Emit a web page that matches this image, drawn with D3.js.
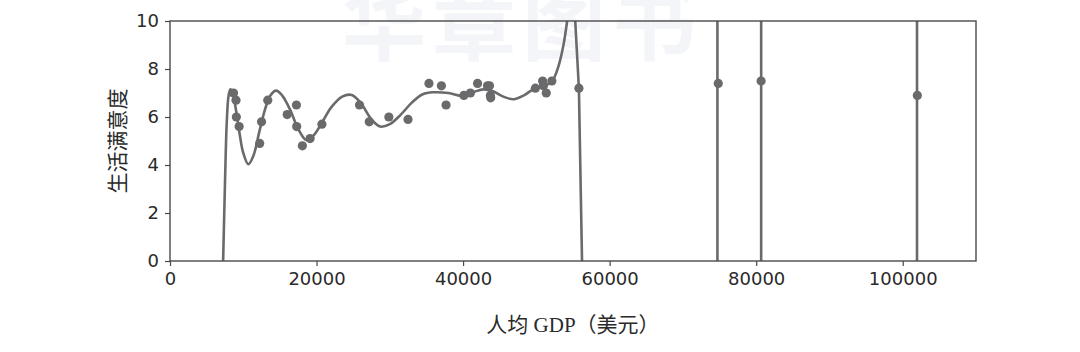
<!DOCTYPE html>
<html>
<head>
<meta charset="utf-8">
<script src="https://cdn.jsdelivr.net/npm/d3@7"></script>
<style>
  body { margin: 0; background: #fff; }
  svg { display: block; }
</style>
</head>
<body>
<svg width="1080" height="352"></svg>
<script>
// country points: GDP per capita (USD) and life satisfaction
const gdp = [8669, 9009, 9054, 9437, 12240, 12495, 13340, 15991, 17256, 17288,
  18064, 19121, 20732, 25864, 27195, 29866, 32485, 35343, 37044, 37675,
  40106, 40996, 41973, 43331, 43603, 43724, 43770, 49866, 50854, 50962,
  51350, 52114, 55805, 74822, 80675, 101994]
const satisfaction = [7.0, 6.7, 6.0, 5.6, 4.9, 5.8, 6.7, 6.1, 6.5, 5.6,
  4.8, 5.1, 5.7, 6.5, 5.8, 6.0, 5.9, 7.4, 7.3, 6.5,
  6.9, 7.0, 7.4, 7.3, 7.3, 6.9, 6.8, 7.2, 7.5, 7.3,
  7.0, 7.5, 7.2, 7.4, 7.5, 6.9]

// overfitted model curve
const curveX = [7150, 7250, 7500, 7750, 8000, 8250, 8600, 9000, 9500, 10000,
  10700, 11400, 12200, 13000, 13700, 14500, 15300, 16400, 17500, 18600,
  19500, 20700, 22000, 23500, 24800, 26000, 27500, 28700, 30000, 31500,
  33000, 34500, 36000, 38000, 40000, 41500, 42800, 44000, 45500, 46900,
  48300, 49800, 51000, 52100, 53000, 53700, 54200, 54700]
const curveY = [-1, 0, 3.2, 5.8, 6.9, 7.15, 6.95, 6.3, 5.3, 4.5,
  4.03, 4.4, 5.4, 6.35, 6.9, 7.1, 6.9, 6.3, 5.5, 5.04,
  5.2, 5.74, 6.4, 6.85, 6.92, 6.6, 5.9, 5.6, 5.7, 6.1,
  6.6, 6.95, 7.03, 7.0, 6.88, 7.05, 7.15, 7.08, 6.85, 6.74,
  6.9, 7.2, 7.3, 7.47, 8.1, 9.0, 10.0, 11.2]
// where the curve falls back from the top down past the bottom
const dropX = [55250, 55805, 56250]
const dropY = [10.3, 7.2, -0.3]
// places where the curve shoots straight through the whole plot
const spikeX = [74710, 80680, 101950]

const xTicks = [0, 20000, 40000, 60000, 80000, 100000]
const yTicks = [0, 2, 4, 6, 8, 10]

const margin = {top: 21, left: 170, right: 104, bottom: 91}
const svg = d3.select('svg')
const width = +svg.attr('width') - margin.left - margin.right
const height = +svg.attr('height') - margin.top - margin.bottom
const grey = '#6a6a6c'
const axisColor = '#4a4a4a'

// faint watermark behind everything, cut by the top edge like the original
svg.append('text')
  .attr('x', 522)
  .attr('y', 54)
  .attr('text-anchor', 'middle')
  .attr('font-family', '"Noto Sans CJK SC"')
  .attr('font-weight', 'bold')
  .attr('font-size', 84)
  .attr('letter-spacing', 6)
  .attr('fill', '#f3f5f9')
  .text('华章图书')

const g = svg.append('g')
  .attr('transform', 'translate(' + margin.left + ',' + margin.top + ')')

const xScale = d3.scaleLinear().domain([0, 110000]).range([0, width])
const yScale = d3.scaleLinear().domain([0, 10]).range([height, 0])

svg.append('defs').append('clipPath').attr('id', 'plot')
  .append('rect').attr('width', width).attr('height', height)

const plot = g.append('g').attr('clip-path', 'url(#plot)')

const line = d3.line()
  .x(d => xScale(d[0]))
  .y(d => yScale(d[1]))

plot.append('path')
  .datum(curveX.map((x, i) => [x, curveY[i]]))
  .attr('fill', 'none')
  .attr('stroke', grey)
  .attr('stroke-width', 2.6)
  .attr('d', line.curve(d3.curveCatmullRom))

plot.append('path')
  .datum(dropX.map((x, i) => [x, dropY[i]]))
  .attr('fill', 'none')
  .attr('stroke', grey)
  .attr('stroke-width', 2.6)
  .attr('d', d3.line().x(d => xScale(d[0])).y(d => yScale(d[1])))

plot.selectAll('line.spike')
  .data(spikeX)
  .enter().append('line')
  .attr('class', 'spike')
  .attr('x1', d => xScale(d))
  .attr('x2', d => xScale(d))
  .attr('y1', yScale(-1))
  .attr('y2', yScale(11))
  .attr('stroke', grey)
  .attr('stroke-width', 2.6)

plot.selectAll('circle')
  .data(gdp)
  .enter().append('circle')
  .attr('cx', d => xScale(d))
  .attr('cy', (d, i) => yScale(satisfaction[i]))
  .attr('r', 4.6)
  .attr('fill', grey)

// axes
const xAxis = g.append('g')
  .attr('transform', 'translate(0,' + height + ')')
  .call(d3.axisBottom(xScale).tickValues(xTicks).tickFormat(d3.format('d')).tickSize(5).tickPadding(6))
const yAxis = g.append('g')
  .call(d3.axisLeft(yScale).tickValues(yTicks).tickSize(5).tickPadding(6))

;[xAxis, yAxis].forEach(a => {
  a.select('.domain').remove()
  a.selectAll('line').attr('stroke', axisColor).attr('stroke-width', 1.2)
  a.selectAll('text')
    .attr('fill', '#2a2a2a')
    .attr('font-family', '"DejaVu Sans"')
    .attr('font-size', 18)
})

// box around the plot
g.append('rect')
  .attr('width', width)
  .attr('height', height)
  .attr('fill', 'none')
  .attr('stroke', axisColor)
  .attr('stroke-width', 1.4)

svg.append('text')
  .attr('x', margin.left + width / 2)
  .attr('y', 332)
  .attr('text-anchor', 'middle')
  .attr('font-family', '"Liberation Serif", "Noto Sans CJK SC"')
  .attr('font-size', 21)
  .attr('fill', '#2a2a2a')
  .text('人均 GDP（美元）')

svg.append('text')
  .attr('transform', 'translate(125,' + (margin.top + height / 2) + ') rotate(-90)')
  .attr('text-anchor', 'middle')
  .attr('font-family', '"Noto Sans CJK SC"')
  .attr('font-size', 21)
  .attr('fill', '#2a2a2a')
  .text('生活满意度')
</script>
</body>
</html>
